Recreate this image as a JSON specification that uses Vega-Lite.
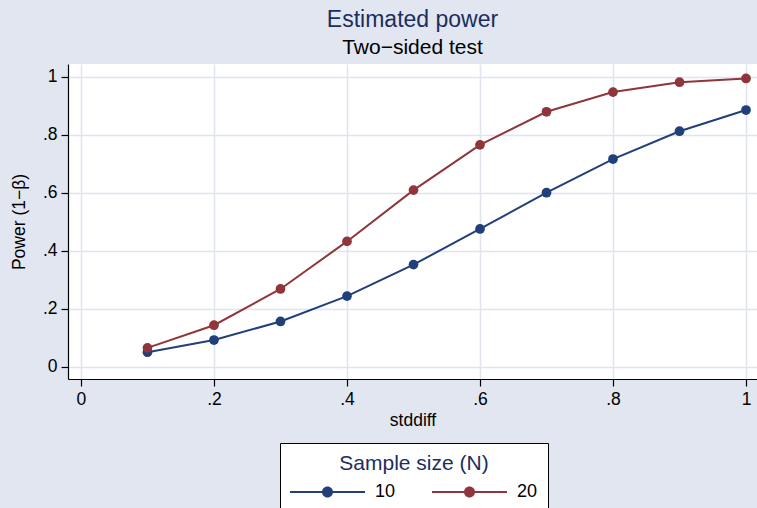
{
  "$schema": "https://vega.github.io/schema/vega-lite/v6.json",
  "autosize": "none",
  "width": 689,
  "height": 315,
  "padding": {"left": 68, "top": 64, "right": 0, "bottom": 129},
  "background": "#e1e6f0",
  "view": {"fill": "white", "stroke": null},
  "config": {
    "font": "Liberation Sans",
    "axis": {
      "gridColor": "#dfe4ef",
      "gridWidth": 1.5,
      "domainColor": "black",
      "domainWidth": 1.2,
      "tickColor": "black",
      "tickWidth": 1.2,
      "tickSize": 7,
      "labelFontSize": 17.5,
      "labelColor": "black",
      "titleFontSize": 17.5,
      "titleFontWeight": "normal",
      "titleColor": "black",
      "labelFont": "Liberation Sans",
      "titleFont": "Liberation Sans"
    }
  },
  "title": {
    "text": "Estimated power",
    "subtitle": "Two−sided test",
    "anchor": "middle",
    "frame": "group",
    "fontSize": 23,
    "fontWeight": "normal",
    "color": "#1c2e5e",
    "subtitleFontSize": 21,
    "subtitleColor": "black",
    "subtitlePadding": 5,
    "offset": 6,
    "font": "Liberation Sans",
    "subtitleFont": "Liberation Sans"
  },
  "data": {
    "values": [
      {"stddiff": 0.1, "N": "10", "power": 0.050},
      {"stddiff": 0.2, "N": "10", "power": 0.092},
      {"stddiff": 0.3, "N": "10", "power": 0.156},
      {"stddiff": 0.4, "N": "10", "power": 0.2435},
      {"stddiff": 0.5, "N": "10", "power": 0.352},
      {"stddiff": 0.6, "N": "10", "power": 0.475},
      {"stddiff": 0.7, "N": "10", "power": 0.600},
      {"stddiff": 0.8, "N": "10", "power": 0.716},
      {"stddiff": 0.9, "N": "10", "power": 0.812},
      {"stddiff": 1.0, "N": "10", "power": 0.885},
      {"stddiff": 0.1, "N": "20", "power": 0.065},
      {"stddiff": 0.2, "N": "20", "power": 0.143},
      {"stddiff": 0.3, "N": "20", "power": 0.268},
      {"stddiff": 0.4, "N": "20", "power": 0.432},
      {"stddiff": 0.5, "N": "20", "power": 0.609},
      {"stddiff": 0.6, "N": "20", "power": 0.765},
      {"stddiff": 0.7, "N": "20", "power": 0.879},
      {"stddiff": 0.8, "N": "20", "power": 0.947},
      {"stddiff": 0.9, "N": "20", "power": 0.981},
      {"stddiff": 1.0, "N": "20", "power": 0.994}
    ]
  },
  "encoding": {
    "x": {
      "field": "stddiff",
      "type": "quantitative",
      "scale": {"domain": [-0.0195, 1.0165], "nice": false, "zero": false},
      "axis": {
        "values": [0, 0.2, 0.4, 0.6, 0.8, 1],
        "labelExpr": "datum.value == 0 ? '0' : datum.value == 1 ? '1' : replace(format(datum.value, '.1f'), '0.', '.')",
        "title": "stddiff",
        "labelPadding": 4,
        "titlePadding": 4
      }
    },
    "y": {
      "field": "power",
      "type": "quantitative",
      "scale": {"domain": [-0.0424, 1.0438], "nice": false, "zero": false},
      "axis": {
        "values": [0, 0.2, 0.4, 0.6, 0.8, 1],
        "labelExpr": "datum.value == 0 ? '0' : datum.value == 1 ? '1' : replace(format(datum.value, '.1f'), '0.', '.')",
        "title": "Power (1−β)",
        "labelPadding": 4,
        "titlePadding": 14
      }
    },
    "color": {
      "field": "N",
      "type": "nominal",
      "scale": {"domain": ["10", "20"], "range": ["#213f7a", "#90353b"]},
      "legend": {
        "title": "Sample size (N)",
        "orient": "none",
        "legendX": 212,
        "legendY": 379,
        "direction": "horizontal",
        "padding": 10,
        "fillColor": "white",
        "strokeColor": "black",
        "titleAnchor": "middle",
        "titleFontSize": 21,
        "titleFontWeight": "normal",
        "titleColor": "#1c2e5e",
        "titlePadding": 8,
        "labelFontSize": 18,
        "labelColor": "black",
        "labelOffset": 65,
        "columnPadding": 36,
        "symbolSize": 400,
        "symbolType": "M-1,-0.1L6.5,-0.1L6.5,0.1L-1,0.1Z M2.2,0A0.55,0.55 0 1,1 3.3,0A0.55,0.55 0 1,1 2.2,0Z",
        "symbolStrokeWidth": 0,
        "encode": {
          "symbols": {
            "update": {
              "fill": {"scale": "color", "field": "value"},
              "stroke": {"value": "transparent"},
              "opacity": {"value": 1}
            }
          }
        }
      }
    }
  },
  "layer": [
    {"mark": {"type": "line", "strokeWidth": 2}},
    {"mark": {"type": "point", "filled": true, "size": 95, "opacity": 1}}
  ]
}
